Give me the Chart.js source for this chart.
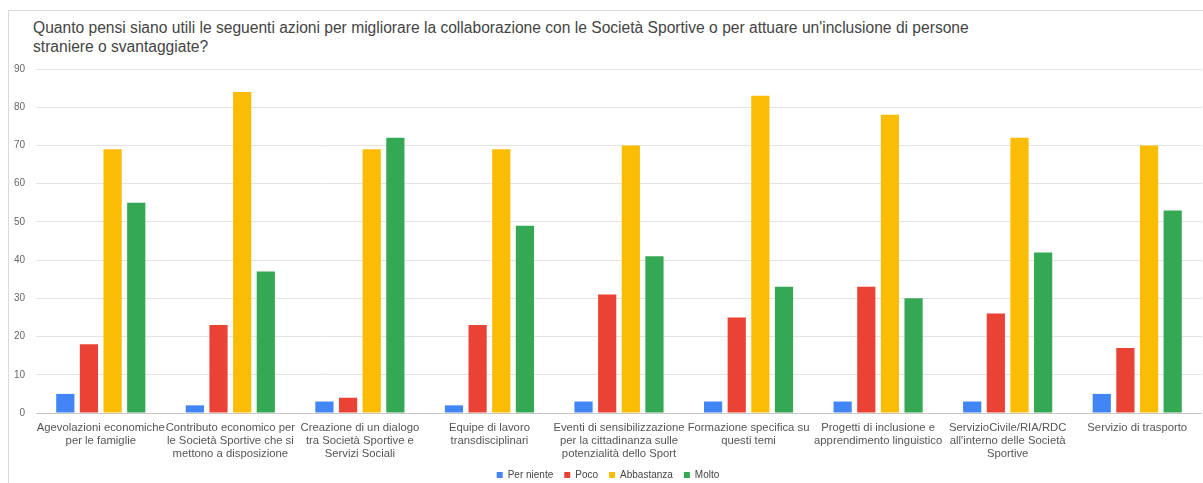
<!DOCTYPE html>
<html>
<head>
<meta charset="utf-8">
<script src="https://cdn.jsdelivr.net/npm/chart.js@4"></script>
<style>
  html, body { margin: 0; padding: 0; background: #fff; overflow: hidden; }
  #frame { position: absolute; left: 8px; top: 10px; width: 1230px; height: 520px; border: 1px solid #dadada; }
  #titolo { position: absolute; left: 33px; top: 18px; width: 980px; font-family: "Liberation Sans", Arial, sans-serif; font-size: 15.6px; line-height: 19px; color: #444; }
  #grafico { position: absolute; left: 0; top: 0; }
</style>
</head>
<body>
<div id="frame"></div>
<div id="titolo">Quanto pensi siano utili le seguenti azioni per migliorare la collaborazione con le Società Sportive o per attuare un'inclusione di persone straniere o svantaggiate?</div>
<canvas id="grafico" width="1203" height="483"></canvas>
<script>
var categorie = [
    ['Agevolazioni economiche', 'per le famiglie'],
    ['Contributo economico per', 'le Società Sportive che si', 'mettono a disposizione'],
    ['Creazione di un dialogo', 'tra Società Sportive e', 'Servizi Sociali'],
    ['Equipe di lavoro', 'transdisciplinari'],
    ['Eventi di sensibilizzazione', 'per la cittadinanza sulle', 'potenzialità dello Sport'],
    ['Formazione specifica su', 'questi temi'],
    ['Progetti di inclusione e', 'apprendimento linguistico'],
    ['ServizioCivile/RIA/RDC', "all'interno delle Società", 'Sportive'],
    ['Servizio di trasporto']
];
var perNiente = [5, 2, 3, 2, 3, 3, 3, 3, 5];
var poco = [18, 23, 4, 23, 31, 25, 33, 26, 17];
var abbastanza = [69, 84, 69, 69, 70, 83, 78, 72, 70];
var molto = [55, 37, 72, 49, 41, 33, 30, 42, 53];
var tickY = [0, 10, 20, 30, 40, 50, 60, 70, 80, 90];

const ctx = document.getElementById('grafico');
const font = "'Liberation Sans', Arial, sans-serif";

function serie(label, data, colore) {
    return {
        label: label,
        data: data,
        backgroundColor: colore,
        borderWidth: 0,
        categoryPercentage: 0.73,
        barPercentage: 0.77
    };
}

new Chart(ctx, {
    type: 'bar',
    data: {
        labels: categorie,
        datasets: [
            serie('Per niente', perNiente, '#4285f4'),
            serie('Poco', poco, '#ea4335'),
            serie('Abbastanza', abbastanza, '#fbbc04'),
            serie('Molto', molto, '#34a853')
        ]
    },
    options: {
        responsive: false,
        animation: false,
        devicePixelRatio: 1,
        layout: { autoPadding: false, padding: { left: 14, right: 1, top: 69, bottom: -7 } },
        plugins: {
            legend: {
                position: 'bottom',
                labels: {
                    boxWidth: 6,
                    boxHeight: 6,
                    padding: 11,
                    color: '#444',
                    font: { family: font, size: 10 }
                }
            },
            tooltip: { enabled: false }
        },
        scales: {
            x: {
                grid: { display: false },
                border: { display: false },
                afterFit: function (scale) {
                    scale.height = 46;
                },
                ticks: {
                    color: '#555',
                    maxRotation: 0,
                    autoSkip: false,
                    padding: 0,
                    font: { family: font, size: 11.3, lineHeight: 1.16 }
                }
            },
            y: {
                min: 0,
                max: 90,
                afterBuildTicks: function (axis) {
                    axis.ticks = tickY.map(function (v) { return { value: v }; });
                },
                afterFit: function (scale) {
                    scale.width = 22;
                },
                grid: {
                    drawTicks: false,
                    color: function (c) { return c.tick && c.tick.value === 0 ? '#c8c8c8' : '#e4e4e4'; }
                },
                border: { display: false },
                ticks: {
                    color: '#666',
                    padding: 11,
                    font: { family: font, size: 10 }
                }
            }
        }
    }
});
</script>
</body>
</html>
